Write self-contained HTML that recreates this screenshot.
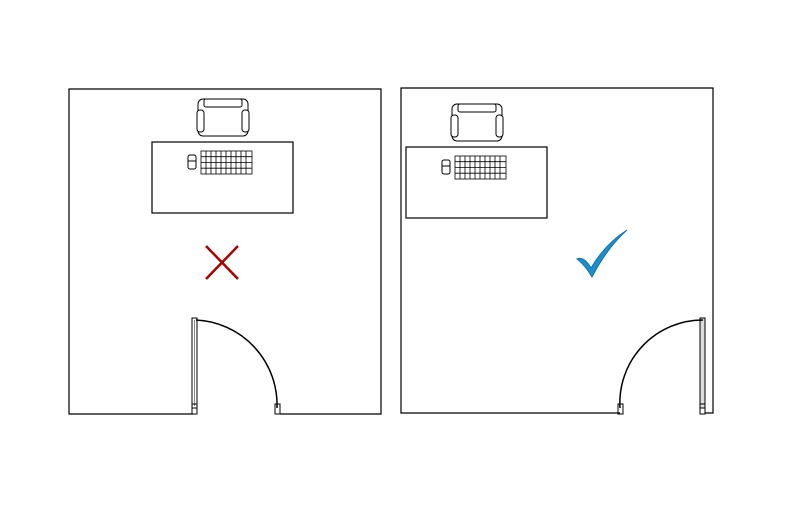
<!DOCTYPE html>
<html><head><style>body{margin:0;background:#fff}</style></head><body>
<svg width="800" height="500" viewBox="0 0 800 500" xmlns="http://www.w3.org/2000/svg">
<defs>
<g id="desk">
<rect x="0" y="0" width="141" height="71" fill="none" stroke="#000" stroke-width="1.2"/>
<rect x="46" y="-43" width="50" height="37" rx="5" fill="#fff" stroke="#000"/>
<rect x="52" y="-43" width="38" height="8" rx="2" fill="none" stroke="#000"/>
<rect x="45" y="-32" width="7" height="22" rx="3" fill="#fff" stroke="#000"/>
<rect x="90" y="-32" width="7" height="22" rx="3" fill="#fff" stroke="#000"/>
<rect x="36" y="13" width="8" height="14" rx="2" fill="none" stroke="#000"/>
<line x1="36" y1="19" x2="44" y2="19" stroke="#000"/>
<g stroke="#000" stroke-width="0.8" fill="none">
<rect x="49" y="9" width="51" height="23"/>
<path d="M49 14.7H100M49 20.5H100M49 26.2H100M54 9V32M59 9V32M64 9V32M69 9V32M74 9V32M79 9V32M84 9V32M89 9V32M94 9V32"/>
</g>
</g>
</defs>
<!-- left room -->
<path d="M193 414H69V89H381V414H280" fill="none" stroke="#000" stroke-width="1.2"/>
<use href="#desk" x="152" y="142"/>
<g fill="none" stroke="#000">
<rect x="192" y="318" width="5" height="90" fill="#fff"/>
<line x1="194.5" y1="320" x2="194.5" y2="406" stroke="#888"/>
<path d="M196 320 A85 85 0 0 1 277 408" stroke-width="1.5"/>
<rect x="192" y="404" width="5" height="10"/>
<rect x="275" y="404" width="5" height="10"/>
</g>
<path d="M206 246L238 279M238 246L206 279" stroke="#a00" stroke-width="2.5"/>
<!-- right room -->
<path d="M620 413H401V88H713V413H705" fill="none" stroke="#000" stroke-width="1.2"/>
<use href="#desk" x="406" y="147"/>
<g fill="none" stroke="#000">
<rect x="700" y="318" width="5" height="90" fill="#ddd"/>
<path d="M703 320 A83 83 0 0 0 620 408" stroke-width="1.5"/>
<rect x="700" y="404" width="5" height="10"/>
<rect x="618" y="404" width="5" height="10"/>
</g>
<path d="M577 259 Q584 256 591 268 Q605 244 627 230 Q607 248 592 277 Q585 265 577 259Z" fill="#1a8fd0" stroke="#1570a8" stroke-width="1"/>
</svg>
</body></html>
